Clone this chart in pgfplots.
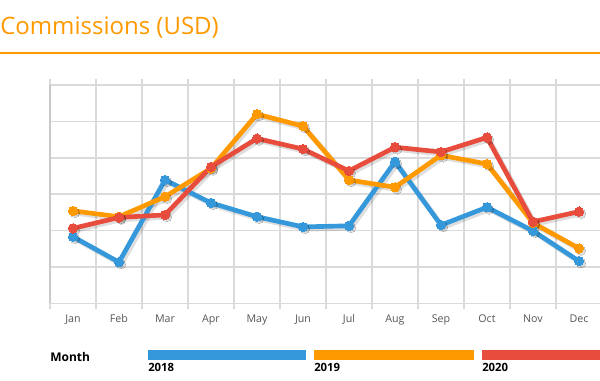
\documentclass[border=0pt]{standalone}
\usepackage{fontspec}
\setmainfont{Open Sans}
\usepackage{pgfplots}
\usepackage{pgfplotstable}
\pgfplotsset{compat=1.18}
\definecolor{cblue}{RGB}{52,152,219}
\definecolor{corange}{RGB}{255,153,0}
\definecolor{cred}{RGB}{231,76,60}
\definecolor{cgrid}{RGB}{218,218,218}
\definecolor{clabel}{RGB}{85,85,85}
\pgfplotstableread{
x  a     b     c
0  1.83  2.54  2.06
1  1.13  2.38  2.36
2  3.39  2.93  2.43
3  2.76  3.71  3.75
4  2.38  5.20  4.53
5  2.10  4.87  4.24
6  2.13  3.39  3.64
7  3.89  3.19  4.29
8  2.15  4.07  4.16
9  2.64  3.83  4.56
10 1.99  2.21  2.24
11 1.16  1.51  2.52
}\datatable
\begin{document}
\begin{tikzpicture}
\path[use as bounding box] (0,0) rectangle (450pt,285.75pt);
% title
\node[anchor=base west, inner sep=0pt, text=corange, font=\fontsize{18pt}{20pt}\selectfont] at (0pt,259.5pt) {Commissions (USD)};
\draw[corange, line width=1.3pt] (0pt,246.2pt) -- (450pt,246.2pt);
\begin{axis}[
  at={(37.5pt,58.275pt)}, anchor=south west,
  scale only axis, width=414pt, height=163.7pt,
  xmin=-0.5, xmax=11.5, ymin=0, ymax=6,
  xtick={0,...,11},
  xticklabels={Jan,Feb,Mar,Apr,May,Jun,Jul,Aug,Sep,Oct,Nov,Dec},
  minor xtick={-0.5,0.5,...,11.5},
  ytick={0,...,6}, yticklabels={},
  xminorgrids, ymajorgrids,
  major tick length=0pt,
  minor tick length=4.5pt,
  tick align=outside,
  tick style={cgrid, line width=1.1pt},
  grid style={cgrid, line width=1.1pt},
  minor grid style={cgrid, line width=1.1pt},
  axis line style={draw=none},
  xticklabel style={font=\fontsize{8pt}{9pt}\selectfont, text=clabel, anchor=base, yshift=-14.3pt},
  clip=false,
]
\draw[cgrid!92!black, line width=1.2pt] (axis cs:-0.5,0) -- (axis cs:-0.5,6);
% shadows
\foreach \col in {a,b,c}{
  \addplot[black, opacity=0.13, line width=3.8pt, line join=round, mark=*, mark size=3.5pt, mark options={line width=0pt}, xshift=1.6pt, yshift=-1.6pt] table[x=x, y=\col] {\datatable};
}
\addplot[cblue, line width=3.5pt, line join=round, mark=*, mark size=3.5pt, mark options={fill=cblue, draw=cblue, line width=0pt}] table[x=x, y=a] {\datatable};
\addplot[corange, line width=3.5pt, line join=round, mark=*, mark size=3.5pt, mark options={fill=corange, draw=corange, line width=0pt}] table[x=x, y=b] {\datatable};
\addplot[cred, line width=3.5pt, line join=round, mark=*, mark size=3.5pt, mark options={fill=cred, draw=cred, line width=0pt}] table[x=x, y=c] {\datatable};
\end{axis}
% legend
\node[anchor=base west, inner sep=0pt, font=\bfseries\fontsize{9pt}{10pt}\selectfont] at (37.5pt,14.25pt) {Month};
\fill[cblue] (111pt,15.75pt) rectangle (229.5pt,23.25pt);
\fill[corange] (235.5pt,15.75pt) rectangle (355.5pt,23.25pt);
\fill[cred] (361.5pt,15.75pt) rectangle (460pt,23.25pt);
\node[anchor=base west, inner sep=0pt, font=\bfseries\fontsize{8.5pt}{10pt}\selectfont] at (111pt,6.75pt) {2018};
\node[anchor=base west, inner sep=0pt, font=\bfseries\fontsize{8.5pt}{10pt}\selectfont] at (235.5pt,6.75pt) {2019};
\node[anchor=base west, inner sep=0pt, font=\bfseries\fontsize{8.5pt}{10pt}\selectfont] at (361.5pt,6.75pt) {2020};
\end{tikzpicture}
\end{document}
